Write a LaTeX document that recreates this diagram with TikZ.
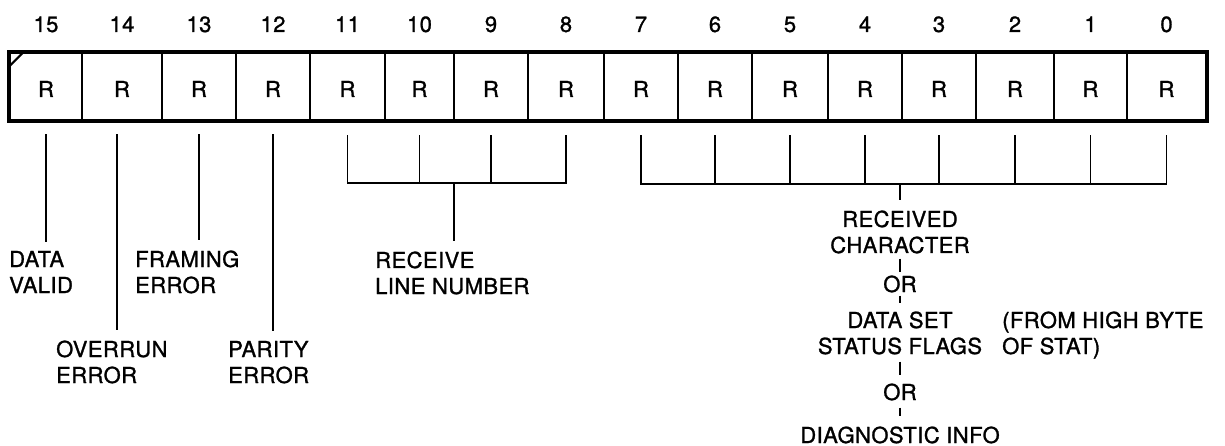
\documentclass[tikz,border=0pt]{standalone}
\usepackage{fontspec}
\setmainfont{TeX Gyre Heros}[FakeBold=1.2, LetterSpace=2]
\begin{document}
\begin{tikzpicture}[x=1pt,y=-1pt,
  txt/.style={font=\fontsize{22}{26}\selectfont, inner sep=0pt},
  cell/.style={draw, line width=2.4pt, inner sep=0pt, minimum height=67pt,
    text height=21pt, font=\fontsize{22}{26}\selectfont},
  wire/.style={line width=1.8pt},
  frame/.style={line width=3pt}]
\useasboundingbox (0,0) rectangle (1225,446);

% register cells, bit 15 on the left
\foreach \bit/\l/\r in {15/10/82, 14/82/162, 13/162/236, 12/236/310,
    11/310/385, 10/385/454, 9/454/528, 8/528/604, 7/604/678, 6/678/752,
    5/752/828, 4/828/902, 3/902/976, 2/976/1054, 1/1054/1127, 0/1127/1206} {
  \node[cell, minimum width={\r-\l}] (b\bit) at ({(\l+\r)/2},86.5) {R};
  \node[txt, anchor=base] (n\bit) at ({(\l+\r)/2},32) {\bit};
}
\draw[frame] (b15.north west) rectangle (b0.south east);
% corner mark of bit 15
\draw[wire, line width=2.2pt] ([yshift=-15pt]b15.north west) -- ([xshift=15pt]b15.north west);

% single-bit fields (base anchor = baseline of the last line)
\node[txt, anchor=base west, align=left] (dv) at (9,293) {DATA\\VALID};
\node[txt, anchor=base west, align=left] (ov) at (56,383) {OVERRUN\\ERROR};
\node[txt, anchor=base west, align=left] (fr) at (135,293) {FRAMING\\ERROR};
\node[txt, anchor=base west, align=left] (pa) at (228,383) {PARITY\\ERROR};
\draw[wire] ([yshift=-13pt]b15.south) -- ([yshift=9pt]b15.south |- dv.north);
\draw[wire] ([yshift=-13pt,xshift=-5pt]b14.south) -- ([yshift=10pt,xshift=-5pt]b14.south |- ov.north);
\draw[wire] ([yshift=-13pt]b13.south) -- ([yshift=10pt]b13.south |- fr.north);
\draw[wire] ([yshift=-13pt]b12.south) -- ([yshift=10pt]b12.south |- pa.north);

% receive line number (bits 11-8)
\coordinate (k1) at (454,183);
\node[txt, anchor=base west, align=left] (rl) at (375,294) {RECEIVE\\LINE NUMBER};
\draw[wire] ([yshift=-14pt]b11.south) -- (b11.south |- k1) -- (b8.south |- k1)
  -- ([yshift=-14pt]b8.south);
\foreach \bit in {10,9}
  \draw[wire] ([yshift=-14pt]b\bit.south) -- (b\bit.south |- k1);
\draw[wire] (k1) -- ([yshift=10pt]k1 |- rl.north);

% received character (bits 7-0)
\coordinate (k2) at (900,184);
\draw[wire] ([yshift=-14pt]b7.south) -- (b7.south |- k2) -- (b0.south |- k2)
  -- ([yshift=-14pt]b0.south);
\foreach \bit in {6,5,4,3,2,1}
  \draw[wire] ([yshift=-14pt]b\bit.south) -- (b\bit.south |- k2);

\node[txt, anchor=base, align=center] (rc) at (900,253) {RECEIVED\\CHARACTER};
\node[txt, anchor=base] (or1) at (900,292) {OR};
\node[txt, anchor=base, align=center] (ds) at (900,354) {DATA SET\\STATUS FLAGS};
\node[txt, anchor=base] (or2) at (900,400) {OR};
\node[txt, anchor=base] (di) at (900,443) {DIAGNOSTIC INFO};
\node[txt, anchor=base west, align=left] (fh) at (1002,354) {(FROM HIGH BYTE\\OF STAT)};

\draw[wire] (k2) -- ([yshift=10pt]k2 |- rc.north);
\draw[wire, shorten <=5pt, shorten >=3pt] (rc) -- (or1);
\draw[wire, shorten <=3pt, shorten >=8pt] (or1) -- (ds);
\draw[wire, shorten <=7pt, shorten >=8pt] (ds) -- (or2);
\draw[wire, shorten <=7pt, shorten >=10pt] (or2) -- (di);
\end{tikzpicture}
\end{document}
